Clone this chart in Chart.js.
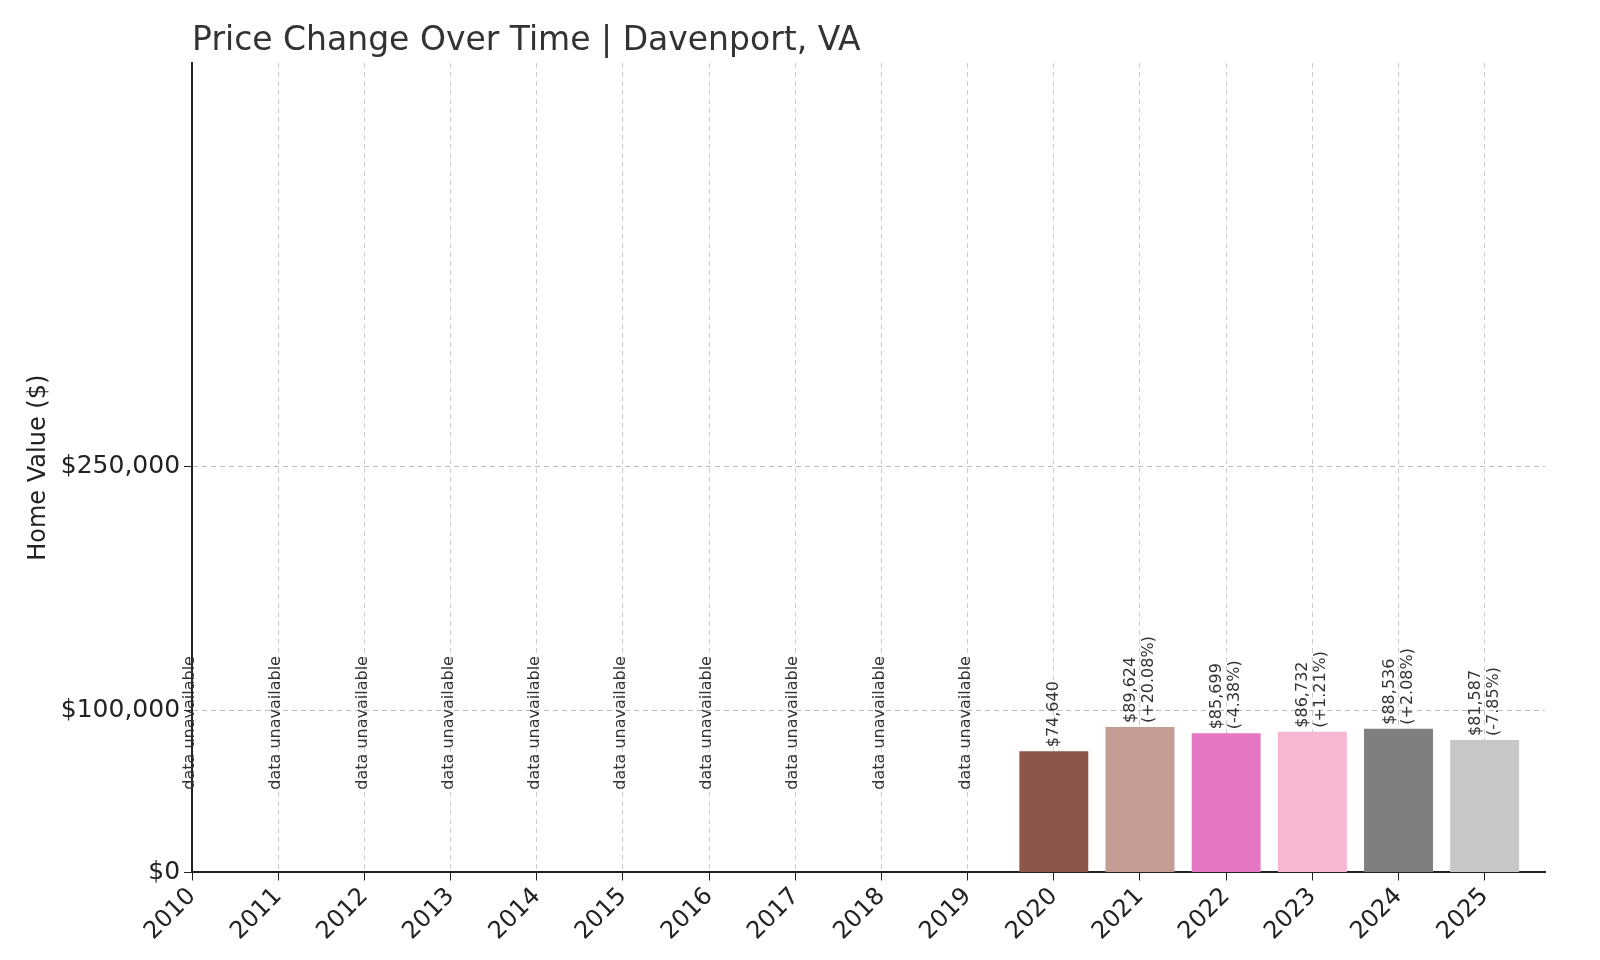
<!DOCTYPE html>
<html>
<head>
<meta charset="utf-8">
<script src="https://cdn.jsdelivr.net/npm/chart.js@4.4.1/dist/chart.umd.min.js"></script>
<style>
  html, body { margin: 0; padding: 0; background: #fff; }
  #wrap { width: 1600px; height: 960px; }
</style>
</head>
<body>
<div id="wrap"><canvas id="c" width="1600" height="960"></canvas></div>
<script>
const YEARS   = [2010, 2011, 2012, 2013, 2014, 2015, 2016, 2017, 2018, 2019, 2020, 2021, 2022, 2023, 2024, 2025];
const VALUES  = [null, null, null, null, null, null, null, null, null, null, 74640, 89624, 85699, 86732, 88536, 81587];
const CHANGES = ['', '', '', '', '', '', '', '', '', '', '', '+20.08%', '-4.38%', '+1.21%', '+2.08%', '-7.85%'];
const COLORS  = ['#8c564b', '#c49c94', '#e377c2', '#f7b6d2', '#7f7f7f', '#c7c7c7'];
const Y_TICKS = [0, 100000, 250000];
const TITLE   = 'Price Change Over Time | Davenport, VA';

const FONT = "'DejaVu Sans', sans-serif";

const points = [];
const barColors = [];
YEARS.forEach((y, i) => {
  if (VALUES[i] != null) {
    points.push({ x: y, y: VALUES[i], i });
    barColors.push(COLORS[points.length - 1]);
  }
});

const fmt = v => '$' + v.toLocaleString('en-US');

// Title aligned with the plot's left edge, plus rotated bar labels
const labelPlugin = {
  id: 'labels',
  afterDatasetsDraw(chart) {
    const { ctx, chartArea, scales: { x, y } } = chart;
    ctx.save();
    ctx.fillStyle = '#333';
    ctx.font = '33px ' + FONT;
    ctx.textBaseline = 'alphabetic';
    ctx.fillText(TITLE, chartArea.left, 50);

    ctx.font = '16px ' + FONT;
    ctx.textAlign = 'left';
    YEARS.forEach((yr, i) => {
      const px = x.getPixelForValue(yr);
      if (VALUES[i] == null) {
        ctx.save();
        ctx.translate(px + 6, y.getPixelForValue(51000));
        ctx.rotate(-Math.PI / 2);
        ctx.textBaseline = 'bottom';
        ctx.fillText('data unavailable', 0, 0);
        ctx.restore();
      } else {
        const lines = CHANGES[i] ? [fmt(VALUES[i]), '(' + CHANGES[i] + ')'] : [fmt(VALUES[i])];
        ctx.save();
        ctx.translate(px, y.getPixelForValue(VALUES[i]) - 4);
        ctx.rotate(-Math.PI / 2);
        ctx.textBaseline = 'middle';
        const lh = 18;
        const off = -(lines.length - 1) * lh / 2;
        lines.forEach((t, k) => ctx.fillText(t, 0, off + k * lh));
        ctx.restore();
      }
    });
    ctx.restore();
  }
};

new Chart(document.getElementById('c').getContext('2d'), {
  type: 'bar',
  data: {
    datasets: [{
      data: points,
      backgroundColor: barColors,
      borderWidth: 0,
      barPercentage: 1.0,
      categoryPercentage: 0.8,
    }]
  },
  plugins: [labelPlugin],
  options: {
    responsive: false,
    animation: false,
    layout: { padding: { top: 63, right: 55, left: 20, bottom: 12 } },
    plugins: {
      legend: { display: false },
      tooltip: { enabled: false },
    },
    scales: {
      x: {
        type: 'linear',
        min: 2010,
        max: 2025.7,
        offset: false,
        afterBuildTicks: axis => { axis.ticks = YEARS.map(v => ({ value: v })); },
        ticks: {
          callback: v => String(v),
          maxRotation: 45,
          minRotation: 45,
          color: '#222',
          font: { family: FONT, size: 24 },
          padding: 2,
        },
        grid: { offset: false, color: '#ccc', drawTicks: true, tickLength: 8, tickColor: '#222' },
        border: { display: true, color: '#222', width: 2, dash: [5, 4] },
      },
      y: {
        min: 0,
        max: 498700,
        afterBuildTicks: axis => { axis.ticks = Y_TICKS.map(v => ({ value: v })); },
        ticks: {
          callback: v => fmt(v),
          color: '#222',
          font: { family: FONT, size: 25 },
          padding: 4,
        },
        grid: { color: '#bbb', tickLength: 8, tickColor: '#222' },
        border: { display: true, color: '#222', width: 2, dash: [5, 4] },
        title: {
          display: true,
          text: 'Home Value ($)',
          color: '#222',
          font: { family: FONT, size: 24 },
          padding: { bottom: 4 },
        },
      },
    },
  },
});
</script>
</body>
</html>
